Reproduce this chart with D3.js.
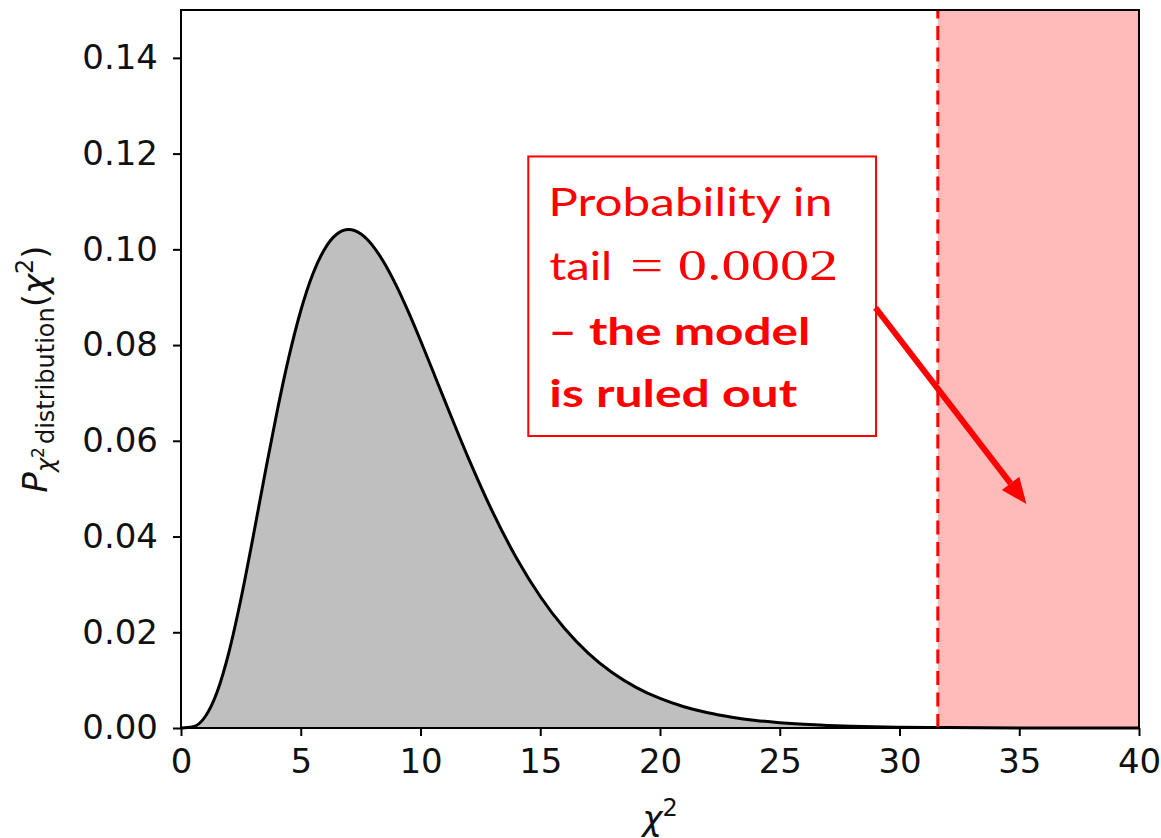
<!DOCTYPE html>
<html>
<head>
<meta charset="utf-8">
<script src="https://cdn.jsdelivr.net/npm/d3@7/dist/d3.min.js"></script>
<style>
  html, body { margin: 0; padding: 0; background: #fff; }
  svg { display: block; }
</style>
</head>
<body>
<svg id="chart" width="1161" height="838"></svg>
<script>
// Chi-squared probability density (9 degrees of freedom), sampled values
const chi2Values = [0, 0.5, 1, 1.5, 2, 2.5, 3, 3.5, 4, 4.5, 5, 5.5, 6, 6.5, 7, 7.5, 8, 8.5, 9, 9.5, 10, 10.5,
  11, 12, 13, 14, 15, 16, 17, 18, 19, 20, 21, 22, 23, 24, 25, 26, 27, 28, 30, 32, 35, 40];
const densityValues = [0, 0.00026, 0.00230, 0.00742, 0.01581, 0.02689, 0.03965, 0.05296, 0.06582, 0.07741,
  0.08717, 0.09478, 0.10009, 0.10315, 0.10412, 0.10324, 0.10078, 0.09704, 0.09231, 0.08687, 0.08096, 0.07479,
  0.06855, 0.05638, 0.04525, 0.03557, 0.02747, 0.02088, 0.01566, 0.01160, 0.00850, 0.00617, 0.00444, 0.00317,
  0.00225, 0.00158, 0.00111, 0.00077, 0.00053, 0.00037, 0.00017, 0.00008, 0.00002, 0.0];

// Axis ticks
const xTicks = [0, 5, 10, 15, 20, 25, 30, 35, 40];
const yTicks = [0.00, 0.02, 0.04, 0.06, 0.08, 0.10, 0.12, 0.14];

// Observed chi-squared value: the rejected tail starts here
const observedChi2 = 31.6;
const tailProbability = "0.0002";

// Annotation (data coordinates)
const noteBox = { x0: 14.5, x1: 29.02, y0: 0.1194, y1: 0.0610 };
const arrowFrom = [29.0, 0.0878];
const arrowTo = [35.3, 0.0468];

const svg = d3.select("#chart");
const margin = { left: 181, right: 22, top: 10, bottom: 110 };
const W = 1161, H = 838;

const x = d3.scaleLinear().domain([0, 40]).range([margin.left, W - margin.right]);
const y = d3.scaleLinear().domain([0, 0.15]).range([H - margin.bottom, margin.top]);

const pts = chi2Values.map((v, i) => [v, densityValues[i]]);

// Shaded rejection region
svg.append("rect")
  .attr("x", x(observedChi2))
  .attr("y", y(0.15))
  .attr("width", x(40) - x(observedChi2))
  .attr("height", y(0) - y(0.15))
  .attr("fill", "#ffbaba");

// Filled density
svg.append("path")
  .datum(pts)
  .attr("fill", "#bfbfbf")
  .attr("d", d3.area().x(d => x(d[0])).y0(y(0)).y1(d => y(d[1])).curve(d3.curveMonotoneX));

svg.append("path")
  .datum(pts)
  .attr("fill", "none")
  .attr("stroke", "#000")
  .attr("stroke-width", 3)
  .attr("d", d3.line().x(d => x(d[0])).y(d => y(d[1])).curve(d3.curveMonotoneX));

// Observed value marker
svg.append("line")
  .attr("x1", x(observedChi2)).attr("x2", x(observedChi2))
  .attr("y1", y(0)).attr("y2", y(0.15))
  .attr("stroke", "#ff0000")
  .attr("stroke-width", 3)
  .attr("stroke-dasharray", "14,7.5");

// Axes
const tickFont = "'DejaVu Sans', sans-serif";
const xAxis = svg.append("g")
  .attr("transform", `translate(0,${y(0)})`)
  .call(d3.axisBottom(x).tickValues(xTicks).tickFormat(d3.format("d")).tickSize(8).tickPadding(13).tickSizeOuter(0));
const yAxis = svg.append("g")
  .attr("transform", `translate(${x(0)},0)`)
  .call(d3.axisLeft(y).tickValues(yTicks).tickFormat(d3.format(".2f")).tickSize(8).tickPadding(15).tickSizeOuter(0));

[xAxis, yAxis].forEach(g => {
  g.select(".domain").remove();
  g.selectAll(".tick line").attr("stroke", "#000").attr("stroke-width", 2);
  g.selectAll(".tick text").attr("fill", "#111").style("font-family", tickFont).style("font-size", "34px");
});

// Frame
svg.append("rect")
  .attr("x", x(0)).attr("y", y(0.15))
  .attr("width", x(40) - x(0)).attr("height", y(0) - y(0.15))
  .attr("fill", "none").attr("stroke", "#000").attr("stroke-width", 2);

// Axis titles
const xl = svg.append("text")
  .attr("x", (x(0) + x(40)) / 2).attr("y", 830)
  .attr("text-anchor", "middle")
  .style("font-family", tickFont).style("font-size", "34px").attr("fill", "#111");
xl.append("tspan").style("font-style", "italic").text("χ");
xl.append("tspan").attr("dy", -14).style("font-size", "24px").text("2");

const yl = svg.append("text")
  .attr("transform", `translate(47,${(y(0) + y(0.15)) / 2}) rotate(-90)`)
  .attr("text-anchor", "middle")
  .style("font-family", tickFont).style("font-size", "34px").attr("fill", "#111");
yl.append("tspan").style("font-style", "italic").text("P");
yl.append("tspan").attr("dy", 7).style("font-size", "24px").style("font-style", "italic").text("χ");
yl.append("tspan").attr("dy", -10).style("font-size", "17px").text("2");
yl.append("tspan").attr("dy", 10).attr("dx", 3).style("font-size", "24px").text("distribution");
yl.append("tspan").attr("dy", -7).text("(");
yl.append("tspan").style("font-style", "italic").text("χ");
yl.append("tspan").attr("dy", -14).style("font-size", "24px").text("2");
yl.append("tspan").attr("dy", 14).text(")");

// Annotation box
const bx = x(noteBox.x0), by = y(noteBox.y0);
svg.append("rect")
  .attr("x", bx).attr("y", by)
  .attr("width", x(noteBox.x1) - bx).attr("height", y(noteBox.y1) - by)
  .attr("fill", "#fff").attr("stroke", "#ff0000").attr("stroke-width", 2);

const noteFont = "Lato, 'Open Sans', sans-serif";
const red = "#ff0000";
svg.append("text").attr("x", bx + 20).attr("y", by + 60)
  .attr("fill", red).style("font-family", noteFont).style("font-size", "38px")
  .attr("textLength", 284).attr("lengthAdjust", "spacingAndGlyphs")
  .text("Probability in");

const l2 = svg.append("text").attr("x", bx + 21).attr("y", by + 124)
  .attr("fill", red).style("font-family", noteFont).style("font-size", "38px");
l2.append("tspan").attr("textLength", 63).attr("lengthAdjust", "spacingAndGlyphs").text("tail");
l2.append("tspan").attr("x", bx + 102)
  .style("font-family", "'Liberation Serif', 'DejaVu Serif', serif").style("font-size", "45px")
  .attr("textLength", 208).attr("lengthAdjust", "spacingAndGlyphs")
  .text("= " + tailProbability);

svg.append("text").attr("x", bx + 20).attr("y", by + 189)
  .attr("fill", red).style("font-family", noteFont).style("font-size", "38px").style("font-weight", "bold")
  .attr("textLength", 262).attr("lengthAdjust", "spacingAndGlyphs")
  .text("– the model");
svg.append("text").attr("x", bx + 21).attr("y", by + 251)
  .attr("fill", red).style("font-family", noteFont).style("font-size", "38px").style("font-weight", "bold")
  .attr("textLength", 248).attr("lengthAdjust", "spacingAndGlyphs")
  .text("is ruled out");

// Arrow pointing into the tail
const ax0 = x(arrowFrom[0]), ay0 = y(arrowFrom[1]);
const ax1 = x(arrowTo[0]), ay1 = y(arrowTo[1]);
const ang = Math.atan2(ay1 - ay0, ax1 - ax0);
const headLen = 26, headHalf = 11;
const bxh = ax1 - headLen * Math.cos(ang), byh = ay1 - headLen * Math.sin(ang);
svg.append("line")
  .attr("x1", ax0).attr("y1", ay0).attr("x2", bxh).attr("y2", byh)
  .attr("stroke", red).attr("stroke-width", 6);
svg.append("path")
  .attr("d", d3.line()([
    [ax1, ay1],
    [bxh + headHalf * Math.sin(ang), byh - headHalf * Math.cos(ang)],
    [bxh - headHalf * Math.sin(ang), byh + headHalf * Math.cos(ang)]
  ]) + "Z")
  .attr("fill", red);
</script>
</body>
</html>
